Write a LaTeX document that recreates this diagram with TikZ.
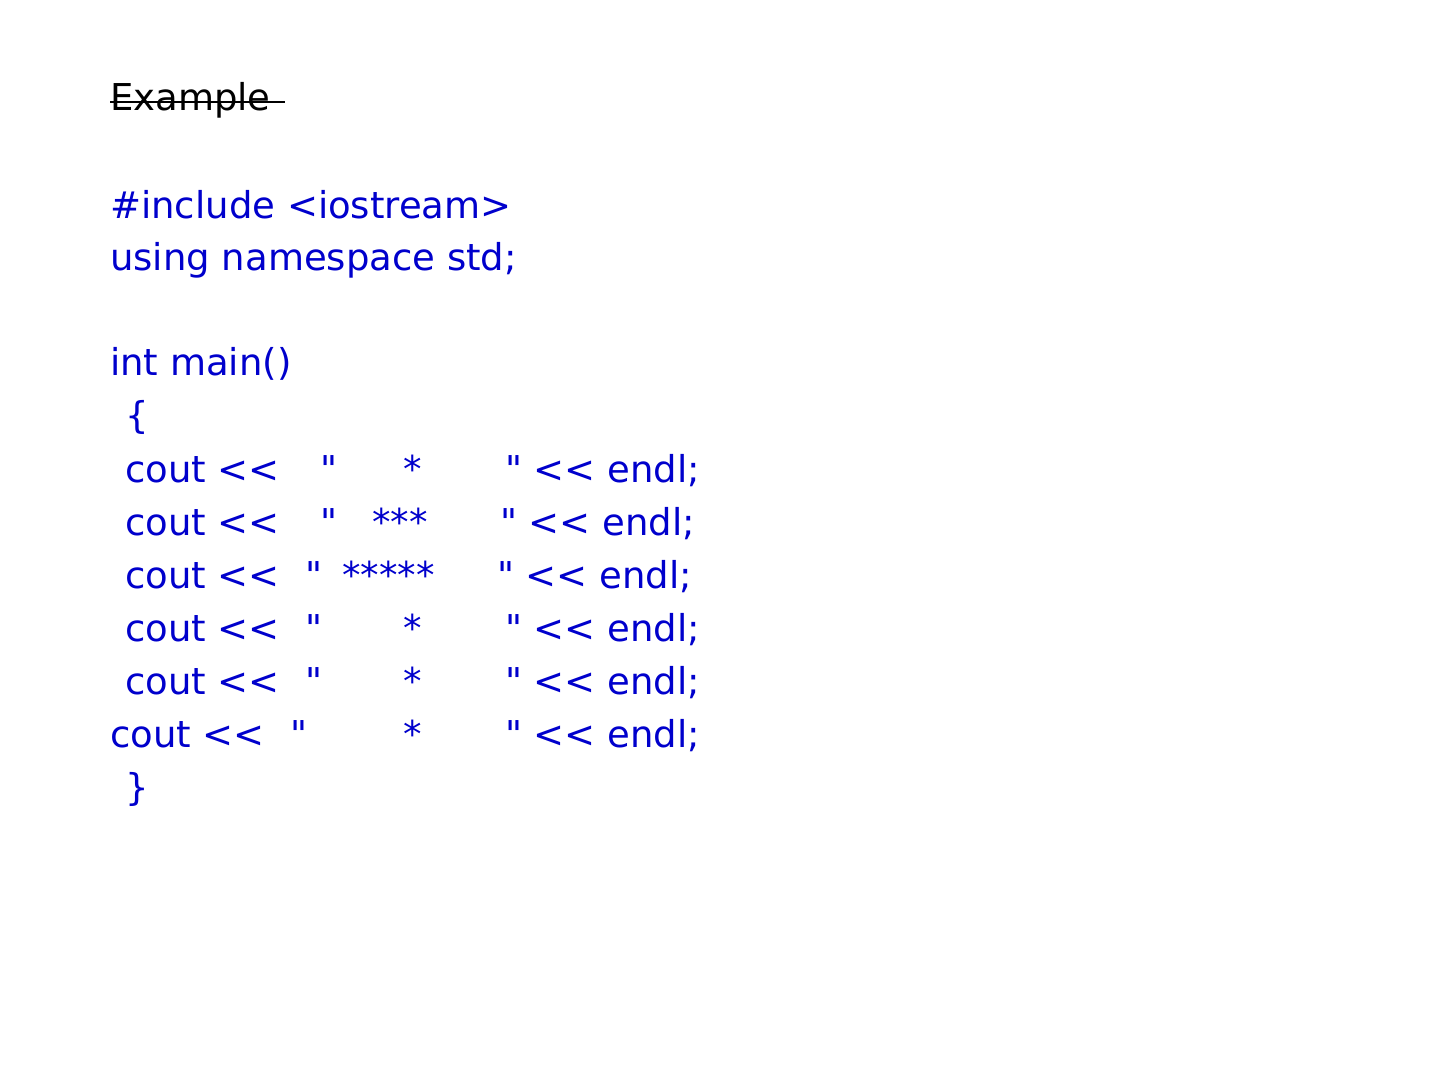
\documentclass[tikz,border=0pt]{standalone}
\usepackage{fontspec}
\newfontfamily\codefont{DejaVu Sans}
\usetikzlibrary{calc}
\definecolor{codeblue}{RGB}{0,0,204}
\tikzset{
  code/.style={anchor=base west,inner sep=0pt,text=codeblue,font=\codefont\fontsize{37}{44}\selectfont},
}
\begin{document}
\begin{tikzpicture}[x=1pt,y=-1pt]
	\useasboundingbox (0,0) rectangle (1440,1080);
	\node[code,text=black] (title) at (110,110) {Example};
	\draw[line width=2.5pt] (title.base west) ++(0,-8) -- ++(175,0);
	\node[code] (inc) at (110,218) {\#include <iostream>};
	\node[code] (ns) at (110,270) {using namespace std;};
	\node[code] (main) at (110,375) {int main()};
	\node[code] (open) at (125,428) {\{};
	% one row per output line: cout, opening quote, stars, closing part
	\foreach \y/\c/\q/\sx/\s/\e in {482/125/320/403/*/505, 535/125/320/372/***/500, 588/125/305/342/*****/497, 641/125/305/403/*/505, 694/125/305/403/*/505, 747/110/290/403/*/505}{
		\node[code] (c\y) at (\c,\y) {cout <<};
		\node[code] (q\y) at (\q,\y) {"};
		\node[code] (s\y) at (\sx,\y) {\s};
		\node[code] (e\y) at (\e,\y) {" << endl;};
	}
	\node[code] (close) at (125,800) {\}};
\end{tikzpicture}
\end{document}
